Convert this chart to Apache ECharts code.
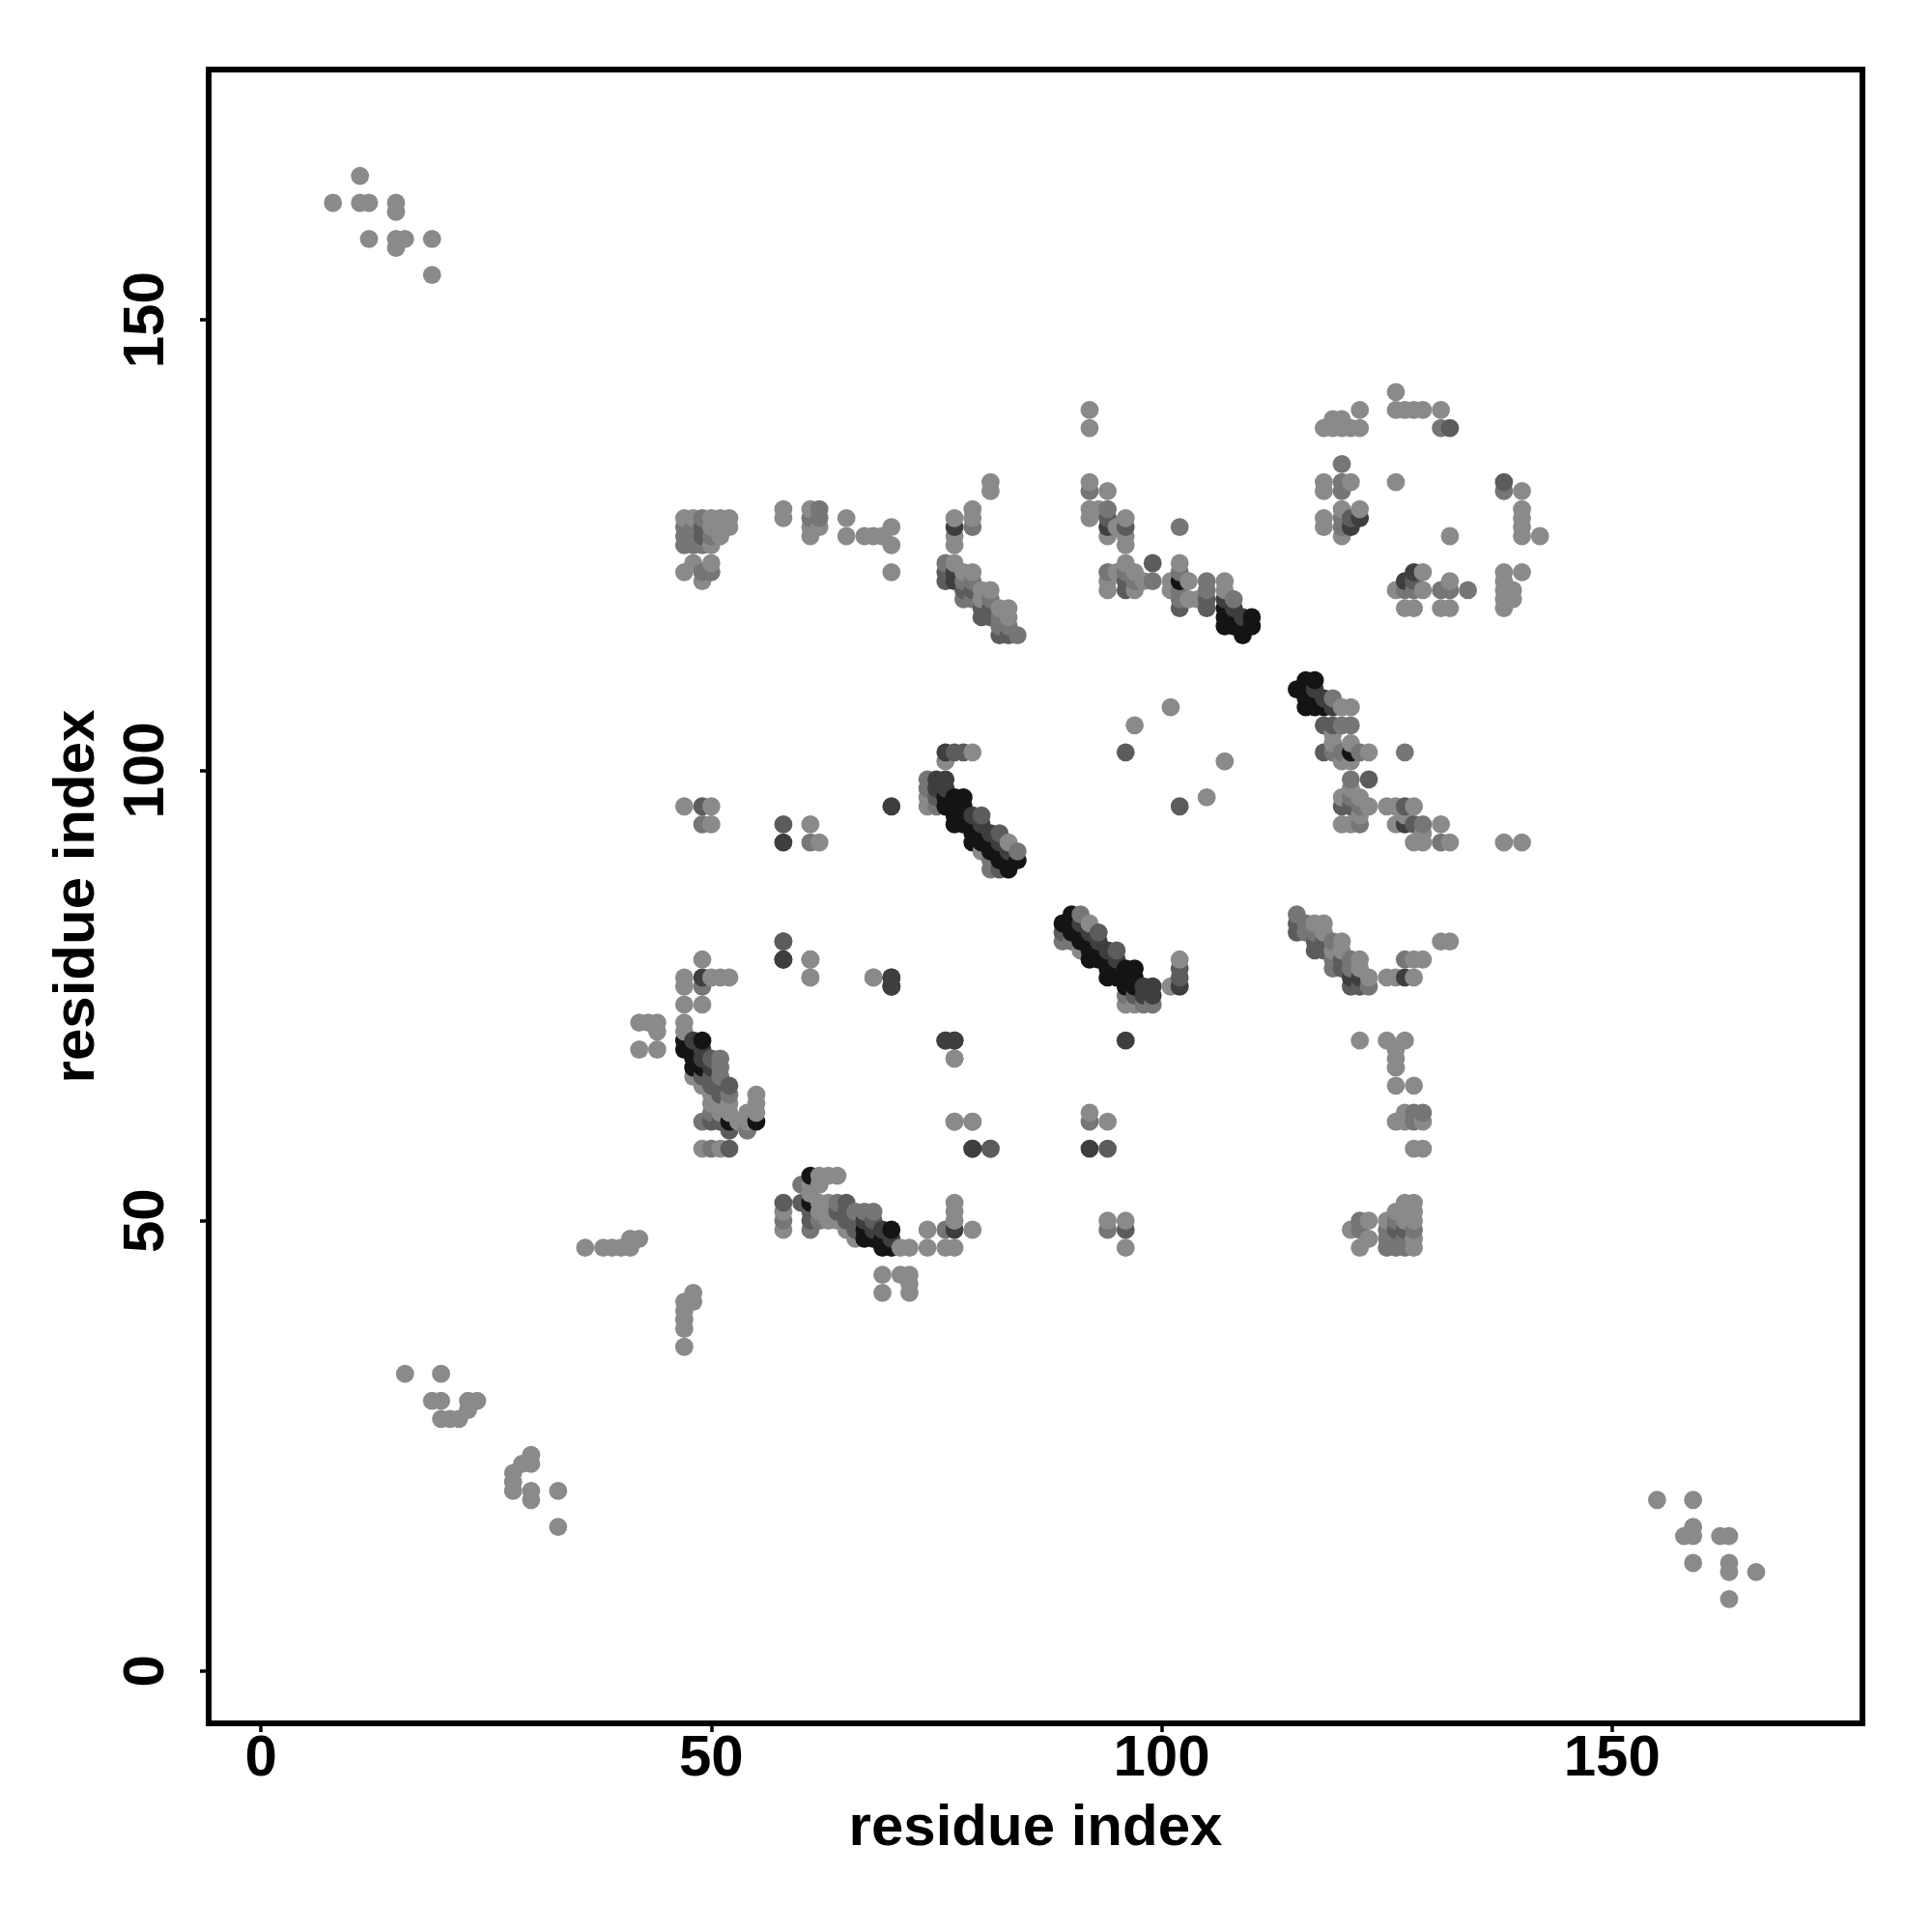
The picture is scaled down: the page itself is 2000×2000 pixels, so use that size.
<!DOCTYPE html>
<html>
<head>
<meta charset="utf-8">
<style>html,body{margin:0;padding:0;background:#fff}#c{width:2000px;height:2000px}</style>
<script src="https://cdn.jsdelivr.net/npm/echarts@6/dist/echarts.min.js"></script>
</head>
<body>
<div id="c"></div>
<script>
// Residue contact pairs [i, j] with i < j. The map is symmetric: each pair shows at (i,j) and (j,i).
const contactsLight = [
[11,166],[8,163],[11,163],[12,163],[15,163],[15,162],[12,159],[15,159],[16,159],[15,158],[19,159],[19,155],
[16,33],[20,33],[19,30],[20,30],[23,30],[24,30],[23,29],[20,28],[21,28],[22,28],
[36,47],[38,47],[39,47],[40,47],[41,47],[41,48],[42,48],
[42,69],[44,69],[44,71],[44,72],[43,72],[42,72],
[47,71],[47,72],[47,74],[47,76],[47,77],[49,74],[49,79],[50,77],[51,77],[52,77],
[48,66],[49,65],[50,64],[52,63],[50,63],[51,63],[51,62],[52,62],[53,61],[54,61],[54,62],[55,62],[55,63],[55,64],[49,58],[51,58],
[47,128],[48,128],[50,128],[51,128],[52,128],[51,127],[52,127],[51,126],[50,125],[50,127],
[47,122],[48,123],[49,121],[50,123],
[58,128],[58,129],[61,129],[61,127],[62,127],[61,126],
[65,128],[65,126],[67,126],[68,126],[69,126],[70,127],[70,125],[70,122],
[77,128],[77,126],[77,125],[79,129],[79,128],[81,132],[81,131],[77,123],[78,122],[79,122],[80,120],[80,119],[81,120],[82,118],[83,118],[83,117],
[47,96],[50,96],[50,94],[61,94],[62,92],[79,102],[76,101],[74,96],[74,97],[80,91],[83,92],
[61,79],[61,77],[68,77],[77,68],[77,61],[79,61],
[92,128],[92,129],[92,132],[92,138],[92,140],[93,129],[94,120],[94,121],[94,126],[94,131],[95,122],[95,127],[96,123],[96,125],[96,126],[96,128],
[97,120],[97,122],[98,121],[101,120],[101,121],[102,123],[103,119],[103,121],[104,119],[107,120],[107,121],
[97,105],[101,107],
[118,127],[118,128],[118,131],[118,132],[118,138],[119,138],[119,139],[120,126],[120,129],[120,138],[120,139],[121,132],[121,138],[122,129],[122,138],[122,140],
[126,132],[126,140],[126,142],[127,140],[128,140],[129,140],[131,140]
];
const contactsMid = [
[49,128],[47,127],[48,127],[47,126],[48,126],[50,126],[47,125],[48,125],[49,125],[49,122],[50,122],
[62,129],[61,128],[62,128],[79,127],[76,123],[78,121],[78,119],[79,121],[79,119],[81,119],[82,117],[82,116],[83,116],[84,115],
[49,94],[61,92],[74,98],[74,99],[75,96],[81,89],[81,90],[84,91],
[49,76],[50,58],[50,62],[49,61],[51,66],[51,67],[51,68],[52,64],[54,60],
[92,131],[94,122],[94,129],[96,122],[97,121],[99,121],[102,119],[102,120],[102,122],[102,127],[105,120],[105,121],[108,119],
[120,127],[120,128],[120,131],[120,132],[120,134],[131,138]
];
const contactsDim = [
[49,127],[49,126],[76,122],[76,121],[78,120],[79,120],[80,118],[80,117],[81,118],[81,117],[82,115],[83,115],
[49,96],[58,94],[77,102],[78,102],[75,97],[82,89],[80,95],[82,93],
[58,81],[76,70],[81,58],[50,61],[51,61],[52,60],[52,58],[50,65],[50,66],[50,68],[51,64],[51,65],[52,65],[49,66],
[96,120],[96,121],[96,127],[94,128],[99,123],[96,102],[102,118],[105,118],[105,119],
[121,128],[132,138]
];
const contactsDark = [
[77,127],[77,122],[77,121],[58,92],[70,96],[76,102],[75,98],[75,99],[76,98],[76,99],[79,95],[80,94],[81,93],[82,92],[83,91],
[49,77],[58,79],[70,77],[70,76],[77,70],[79,58],[48,70],[49,68],[49,69],[50,67],
[94,127],[107,119],[108,118],[109,117],[121,127],[122,128]
];
const contactsBlack = [
[76,96],[76,97],[77,94],[77,95],[77,96],[77,97],[78,94],[78,95],[78,96],[78,97],[79,92],[79,93],[79,94],[80,92],[80,93],[81,91],[81,92],[82,90],[82,91],[83,89],[83,90],[84,90],
[47,69],[47,70],[48,67],[48,68],[48,69],[49,67],[49,70],[52,61],[55,61],
[102,121],[107,116],[107,117],[107,118],[108,116],[108,117],[109,115],[109,116],[110,116],[110,117]
];
const shadeColors = { light: '#8a8a8a', mid: '#767676', dim: '#5c5c5c', dark: '#3e3e3e', black: '#141414' };
const tickValues = [0, 50, 100, 150];
const axisTitle = 'residue index';

const shaded = [[contactsLight,'light'],[contactsMid,'mid'],[contactsDim,'dim'],[contactsDark,'dark'],[contactsBlack,'black']];
const points = [];
shaded.forEach(([list, shade]) => list.forEach(([i, j]) => {
  points.push({ value: [i, j], itemStyle: { color: shadeColors[shade] } });
  points.push({ value: [j, i], itemStyle: { color: shadeColors[shade] } });
}));
points.sort((a, b) => a.value[0] - b.value[0] || a.value[1] - b.value[1]);

const font = '"Liberation Sans", Arial, sans-serif';
const axisBase = {
  type: 'value', min: -5.8, max: 177.8, nameLocation: 'middle',
  name: axisTitle, z: 10,
  nameTextStyle: { fontFamily: font, fontWeight: 'bold', fontSize: 60, color: '#000' },
  splitLine: { show: false }, minorTick: { show: false },
  axisLine: { show: false, onZero: false },
  axisTick: { show: true, length: 9, inside: false, customValues: tickValues, lineStyle: { color: '#000', width: 3.5 } },
};
const labelBase = { customValues: tickValues, fontFamily: font, fontWeight: 'bold', fontSize: 60, color: '#000' };
const chart = echarts.init(document.getElementById('c'), null, { renderer: 'canvas' });
chart.setOption({
  animation: false,
  backgroundColor: '#fff',
  grid: { left: 216, right: 2000 - 1928, top: 72, bottom: 2000 - 1784, show: true, borderColor: '#000', borderWidth: 6, backgroundColor: 'transparent' },
  xAxis: Object.assign({}, axisBase, { nameGap: 79, axisLabel: Object.assign({}, labelBase, { margin: 7 }) }),
  yAxis: Object.assign({}, axisBase, { nameGap: 106, nameRotate: 90, axisLabel: Object.assign({}, labelBase, { rotate: 90, margin: 64, align: 'center', verticalAlign: 'middle' }) }),
  series: [{
    type: 'scatter', symbol: 'circle', symbolSize: 18.8, data: points, progressive: 0, large: false,
    itemStyle: { opacity: 1 },
    emphasis: { disabled: true }
  }]
});
</script>
</body>
</html>
